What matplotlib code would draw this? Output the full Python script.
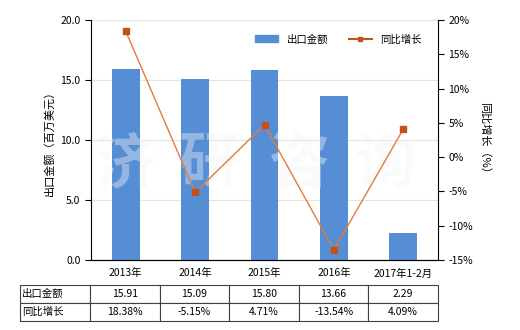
import numpy as np
import matplotlib
matplotlib.use('Agg')
import matplotlib.pyplot as plt
from matplotlib.lines import Line2D
from matplotlib.patches import Patch

plt.rcParams['font.family'] = ['Noto Sans CJK SC', 'DejaVu Sans']

years = ['2013年', '2014年', '2015年', '2016年', '2017年1-2月']
export_value = [15.91, 15.09, 15.80, 13.66, 2.29]
growth = [18.38, -5.15, 4.71, -13.54, 4.09]
value_labels = ['15.91', '15.09', '15.80', '13.66', '2.29']
growth_labels = ['18.38%', '-5.15%', '4.71%', '-13.54%', '4.09%']

bar_color = '#558ED5'
line_color = '#E47A3C'
marker_color = '#C5511A'

fig = plt.figure(figsize=(5.2, 3.3), dpi=100)
ax = fig.add_axes([91/520, 70/330, 347/520, 240/330])
x = np.arange(len(years))

ax.bar(x, export_value, width=0.4, color=bar_color, zorder=2)
ax.set_xlim(-0.5, len(years) - 0.5)
ax.set_ylim(0, 20)
ax.set_yticks([0, 5, 10, 15, 20])
ax.set_yticklabels(['0.0', '5.0', '10.0', '15.0', '20.0'], fontsize=7.5)
ax.set_xticks(x)
ax.set_xticklabels(years, fontsize=7.5)
ax.tick_params(axis='x', length=0, pad=6)
ax.tick_params(axis='y', length=4)
ax.grid(axis='y', color='#e3e3e3', linewidth=0.8, zorder=0)
ax.spines['top'].set_visible(False)
ax.spines['right'].set_visible(False)
ax.set_ylabel('出口金额（百万美元）', fontsize=8)

ax2 = ax.twinx()
ax2.plot(x, growth, color=line_color, linewidth=1, marker='s', markersize=4,
         markerfacecolor=marker_color, markeredgecolor=marker_color, zorder=4)
ax2.set_ylim(-15, 20)
ax2.set_yticks(range(-15, 21, 5))
ax2.set_yticklabels(['%d%%' % v for v in range(-15, 21, 5)], fontsize=7.5)
ax2.tick_params(axis='y', length=4)
ax2.spines['top'].set_visible(False)
ax2.spines['left'].set_visible(False)
ax2.set_ylabel('同比增长（%）', fontsize=8, rotation=270, labelpad=12)

# watermark
for ch, xp in zip('济研咨询', [0.10, 0.34, 0.60, 0.85]):
    ax.text(xp, 0.395, ch, fontsize=44, color='#f4f4f4', alpha=0.4, fontweight='bold',
            ha='center', va='center', zorder=3, transform=ax.transAxes)

handles = [Patch(color=bar_color), Line2D([], [], color=marker_color, marker='s', markersize=3, linewidth=1.5)]
ax2.legend(handles, ['出口金额', '同比增长'], ncol=2, frameon=False, fontsize=7.5,
           loc='upper right', bbox_to_anchor=(0.98, 0.98), handlelength=2.2, columnspacing=2)

# data table
tax = fig.add_axes([20/520, 9/330, 418/520, 36/330])
tax.axis('off')
cells = [['出口金额'] + value_labels, ['同比增长'] + growth_labels]
tbl = tax.table(cellText=cells, bbox=[0, 0, 1, 1], cellLoc='center',
                colWidths=[70/418] + [69.6/418] * 5)
tbl.auto_set_font_size(False)
for (r, c), cell in tbl.get_celld().items():
    cell.set_fontsize(7.5)
    cell.set_edgecolor('#404040')
    cell.set_linewidth(0.8)
    if c == 0:
        cell.get_text().set_ha('left')
        cell.PAD = 0.03

fig.savefig('out.png', dpi=100)
